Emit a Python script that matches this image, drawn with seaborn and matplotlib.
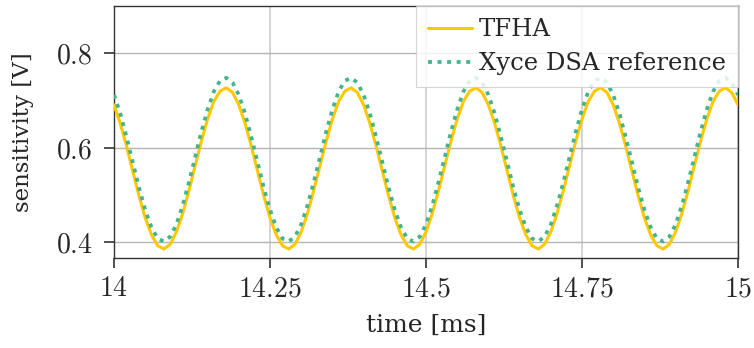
import numpy as np
import pandas as pd
import matplotlib
matplotlib.use("Agg")
import matplotlib.pyplot as plt
from matplotlib.ticker import FixedLocator, FuncFormatter
import seaborn as sns

# time axis in ms, 0.01 ms spacing
time_ms = [
    14.00, 14.01, 14.02, 14.03, 14.04, 14.05, 14.06, 14.07, 14.08, 14.09,
    14.10, 14.11, 14.12, 14.13, 14.14, 14.15, 14.16, 14.17, 14.18, 14.19,
    14.20, 14.21, 14.22, 14.23, 14.24, 14.25, 14.26, 14.27, 14.28, 14.29,
    14.30, 14.31, 14.32, 14.33, 14.34, 14.35, 14.36, 14.37, 14.38, 14.39,
    14.40, 14.41, 14.42, 14.43, 14.44, 14.45, 14.46, 14.47, 14.48, 14.49,
    14.50, 14.51, 14.52, 14.53, 14.54, 14.55, 14.56, 14.57, 14.58, 14.59,
    14.60, 14.61, 14.62, 14.63, 14.64, 14.65, 14.66, 14.67, 14.68, 14.69,
    14.70, 14.71, 14.72, 14.73, 14.74, 14.75, 14.76, 14.77, 14.78, 14.79,
    14.80, 14.81, 14.82, 14.83, 14.84, 14.85, 14.86, 14.87, 14.88, 14.89,
    14.90, 14.91, 14.92, 14.93, 14.94, 14.95, 14.96, 14.97, 14.98, 14.99,
    15.00,
]

# sensitivity from the TFHA solver [V]
tfha = [
    0.691, 0.652, 0.604, 0.551, 0.499, 0.452, 0.416, 0.393, 0.386, 0.396,
    0.422, 0.461, 0.509, 0.562, 0.614, 0.661, 0.698, 0.720, 0.727, 0.717,
    0.691, 0.652, 0.604, 0.551, 0.499, 0.452, 0.416, 0.393, 0.386, 0.396,
    0.422, 0.461, 0.509, 0.562, 0.614, 0.661, 0.698, 0.720, 0.727, 0.717,
    0.691, 0.652, 0.604, 0.551, 0.499, 0.452, 0.416, 0.393, 0.386, 0.396,
    0.422, 0.461, 0.509, 0.562, 0.614, 0.661, 0.698, 0.720, 0.727, 0.717,
    0.691, 0.652, 0.604, 0.551, 0.499, 0.452, 0.416, 0.393, 0.386, 0.396,
    0.422, 0.461, 0.509, 0.562, 0.614, 0.661, 0.698, 0.720, 0.727, 0.717,
    0.691, 0.652, 0.604, 0.551, 0.499, 0.452, 0.416, 0.393, 0.386, 0.396,
    0.422, 0.461, 0.509, 0.562, 0.614, 0.661, 0.698, 0.720, 0.727, 0.717,
    0.691,
]

# sensitivity from Xyce direct sensitivity analysis [V]
xyce = [
    0.712, 0.673, 0.623, 0.570, 0.516, 0.469, 0.432, 0.408, 0.402, 0.412,
    0.438, 0.478, 0.527, 0.580, 0.634, 0.681, 0.719, 0.742, 0.748, 0.738,
    0.712, 0.673, 0.623, 0.570, 0.516, 0.469, 0.432, 0.408, 0.402, 0.412,
    0.438, 0.478, 0.527, 0.580, 0.634, 0.681, 0.719, 0.742, 0.748, 0.738,
    0.712, 0.673, 0.623, 0.570, 0.516, 0.469, 0.432, 0.408, 0.402, 0.412,
    0.438, 0.478, 0.527, 0.580, 0.634, 0.681, 0.719, 0.742, 0.748, 0.738,
    0.712, 0.673, 0.623, 0.570, 0.516, 0.469, 0.432, 0.408, 0.402, 0.412,
    0.438, 0.478, 0.527, 0.580, 0.634, 0.681, 0.719, 0.742, 0.748, 0.738,
    0.712, 0.673, 0.623, 0.570, 0.516, 0.469, 0.432, 0.408, 0.402, 0.412,
    0.438, 0.478, 0.527, 0.580, 0.634, 0.681, 0.719, 0.742, 0.748, 0.738,
    0.712,
]

x_ticks = [14, 14.25, 14.5, 14.75, 15]
y_ticks = [0.4, 0.6, 0.8]

sns.set_style("ticks")
plt.rcParams["font.family"] = ["DejaVu Serif"]
plt.rcParams["mathtext.fontset"] = "cm"

fig = plt.figure(figsize=(7.54, 3.48), dpi=100)
ax = fig.add_axes([0.1512, 0.2586, 0.8276, 0.7242])

df = pd.DataFrame({"t": time_ms, "TFHA": tfha, "Xyce DSA reference": xyce})

sns.lineplot(data=df, x="t", y="TFHA", ax=ax, color="#ffc800",
             linewidth=2.2, label="TFHA", zorder=3)
sns.lineplot(data=df, x="t", y="Xyce DSA reference", ax=ax, color="#43b48d",
             linewidth=2.7, linestyle=(0, (1.05, 1.5)), label="Xyce DSA reference",
             zorder=4)

ax.set_xlim(14, 15)
ax.set_ylim(0.367, 0.9)

ax.xaxis.set_major_locator(FixedLocator(x_ticks))
ax.yaxis.set_major_locator(FixedLocator(y_ticks))
ax.xaxis.set_major_formatter(FuncFormatter(lambda v, p: f"${v:g}$"))
ax.yaxis.set_major_formatter(FuncFormatter(lambda v, p: f"${v:g}$"))

ax.xaxis.grid(True, color="#d4d4d4", linewidth=1.4)
ax.yaxis.grid(True, color="#b4b4b4", linewidth=1.0)

ax.tick_params(axis="both", which="major", direction="out", length=7.5,
               width=1.1, color="#222222", labelsize=20,
               bottom=True, left=True)
ax.tick_params(axis="x", pad=5)
ax.tick_params(axis="y", pad=8)

for s in ax.spines.values():
    s.set_visible(True)
    s.set_color("#333333")
    s.set_linewidth(1.0)

ax.set_xlabel("time [ms]", fontsize=18, labelpad=8)
ax.set_ylabel("sensitivity [V]", fontsize=16.5, labelpad=16)

leg = ax.legend(loc="upper right", borderaxespad=0, fontsize=17.5,
                frameon=True, fancybox=False, framealpha=0.82,
                edgecolor="#cccccc", handlelength=1.8, handletextpad=0.3,
                labelspacing=0.45, borderpad=0.5)
leg.get_frame().set_linewidth(0.8)

fig.savefig("out.png", dpi=100)
